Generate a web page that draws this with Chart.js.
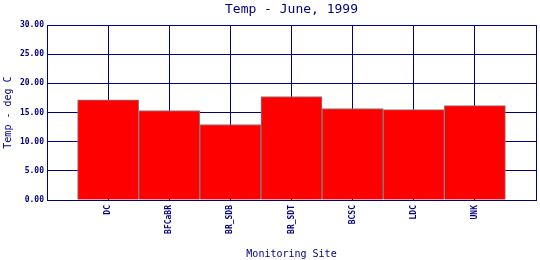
<!DOCTYPE html>
<html>
<head>
<meta charset="utf-8">
<script src="https://cdn.jsdelivr.net/npm/chart.js@4/dist/chart.umd.min.js"></script>
<style>
  body { margin: 0; background: #fff; }
  #wrap { width: 540px; height: 260px; position: relative; }
</style>
</head>
<body>
<div id="wrap"><canvas id="tempChart"></canvas></div>
<script>
// monitoring sites and mean temperature (deg C), June 1999
const sites = ['DC', 'BFCaBR', 'BR_SDB', 'BR_SDT', 'BCSC', 'LDC', 'UNK'];
const temps = [17.2, 15.35, 12.95, 17.75, 15.7, 15.5, 16.2];
const yMin = 0;
const yMax = 30;
const yStep = 5;

const navy = '#000080';
const mono = 'DejaVu Sans Mono';

// pad an empty slot on each side so the bars sit on the grid lines
const labels = [''].concat(sites, ['']);
const values = [null].concat(temps, [null]);

new Chart(document.getElementById('tempChart'), {
  type: 'bar',
  data: {
    labels: labels,
    datasets: [{
      label: 'Temp',
      data: values,
      backgroundColor: '#ff0000',
      borderColor: '#808080',
      borderWidth: 1,
      barPercentage: 1,
      categoryPercentage: 1
    }]
  },
  options: {
    responsive: true,
    maintainAspectRatio: false,
    animation: false,
    layout: { padding: { top: 0, right: 4, bottom: 0, left: 0 } },
    plugins: {
      legend: { display: false },
      tooltip: { enabled: false },
      title: {
        display: true,
        text: 'Temp - June, 1999',
        color: navy,
        fullSize: false,
        font: { family: mono, size: 13, weight: 'normal', lineHeight: 1.2 },
        padding: { top: 2, bottom: 7.5 }
      }
    },
    scales: {
      x: {
        offset: false,
        grid: { color: navy, lineWidth: 1, drawTicks: false, offset: false },
        border: { color: navy, width: 1 },
        ticks: {
          color: navy,
          autoSkip: false,
          maxRotation: 90,
          minRotation: 90,
          padding: 5,
          font: { family: mono, size: 8, weight: 'bold' }
        },
        title: {
          display: true,
          text: 'Monitoring Site',
          color: navy,
          font: { family: mono, size: 10, lineHeight: 1.2 },
          padding: 0
        },
        afterFit: (scale) => {
          scale.height = 60;
          scale.paddingLeft = 0;
          scale.paddingRight = 0;
        }
      },
      y: {
        min: yMin,
        max: yMax,
        grid: { color: navy, lineWidth: 1, drawTicks: false },
        border: { color: navy, width: 1 },
        ticks: {
          stepSize: yStep,
          color: navy,
          padding: 3,
          font: { family: mono, size: 8, weight: 'bold' },
          callback: (v) => Number(v).toFixed(2)
        },
        title: {
          display: true,
          text: 'Temp - deg C',
          color: navy,
          font: { family: mono, size: 10, lineHeight: 1.2 },
          padding: { top: 2, bottom: 0 }
        },
        afterFit: (scale) => { scale.width = 47; }
      }
    }
  }
});
</script>
</body>
</html>
